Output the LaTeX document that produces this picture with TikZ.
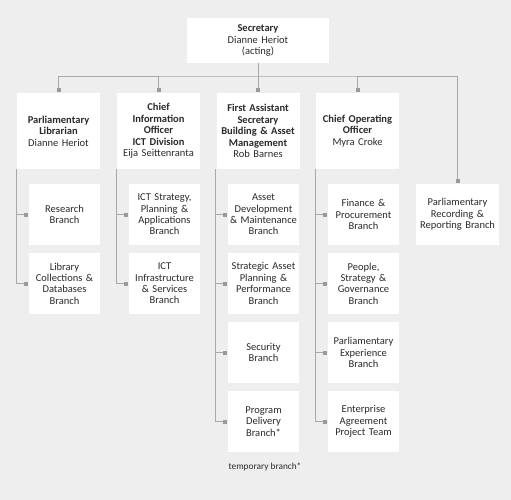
\documentclass[tikz,border=0pt]{standalone}
\usepackage{fontspec}
\setmainfont{Carlito}
\usetikzlibrary{calc}
\definecolor{bg}{HTML}{EEEEEE}
\definecolor{ln}{HTML}{A8A8A8}
\definecolor{mk}{HTML}{9A9A9A}
\definecolor{tx}{HTML}{2A2A2A}
\begin{document}
\begin{tikzpicture}[x=1pt,y=-1pt,
  box/.style={fill=white, text=tx, align=center, inner sep=1pt, font=\fontsize{10.5}{11.4}\selectfont},
  top/.style={box, minimum width=142pt, minimum height=45pt, text width=140pt},
  lvl/.style={box, minimum width=83pt, minimum height=76pt, text width=81pt},
  kid/.style={box, minimum width=71pt, minimum height=61pt, text width=69pt},
  conn/.style={draw=ln, line width=0.9pt},
  sqm/.style={fill=mk, minimum size=4pt, inner sep=0pt, outer sep=0pt}
]
\fill[bg] (0,0) rectangle (511,500);
\useasboundingbox (0,0) rectangle (511,500);

% top
\node[top] (sec) at (258,40.5) {\textbf{Secretary}\\Dianne Heriot\\(acting)};

% level 2
\node[lvl] (l1) at (58.5,131) {\textbf{Parliamentary}\\\textbf{Librarian}\\Dianne Heriot};
\node[lvl] (l2) at (158.5,131) {\textbf{Chief}\\\textbf{Information}\\\textbf{Officer}\\\textbf{ICT Division}\\Eija Seittenranta};
\node[lvl] (l3) at (258,131) {\textbf{First Assistant}\\\textbf{Secretary}\\\textbf{Building \& Asset}\\\textbf{Management}\\Rob Barnes};
\node[lvl] (l4) at (357.5,131) {\textbf{Chief Operating}\\\textbf{Officer}\\Myra Croke};
\node[kid, minimum width=83pt, text width=81pt] (l5) at (457.5,214.5) {Parliamentary\\Recording \&\\Reporting Branch};

% children
\node[kid] (a1) at (64.5,214.5) {Research\\Branch};
\node[kid] (a2) at (64.5,283.5) {Library\\Collections \&\\Databases\\Branch};
\node[kid] (b1) at (164.5,214.5) {ICT Strategy,\\Planning \&\\Applications\\Branch};
\node[kid] (b2) at (164.5,283.5) {ICT\\Infrastructure\\\& Services\\Branch};
\node[kid] (c1) at (263.5,214.5) {Asset\\Development\\\& Maintenance\\Branch};
\node[kid] (c2) at (263.5,283.5) {Strategic Asset\\Planning \&\\Performance\\Branch};
\node[kid] (c3) at (263.5,352.5) {Security\\Branch};
\node[kid] (c4) at (263.5,421.5) {Program\\Delivery\\Branch*};
\node[kid] (d1) at (363.5,214.5) {Finance \&\\Procurement\\Branch};
\node[kid] (d2) at (363.5,283.5) {People,\\Strategy \&\\Governance\\Branch};
\node[kid] (d3) at (363.5,352.5) {Parliamentary\\Experience\\Branch};
\node[kid] (d4) at (363.5,421.5) {Enterprise\\Agreement\\Project Team};

\node[text=tx, font=\fontsize{9.3}{11}\selectfont] (note) at (265,467) {temporary branch*};

% markers for level 2
\foreach \n in {l1,l2,l3,l4,l5}{
  \node[sqm] (m\n) at ($(\n.north)+(0,-2.5)$) {};
}
% markers for children
\foreach \n in {a1,a2,b1,b2,c1,c2,c3,c4,d1,d2,d3,d4}{
  \node[sqm] (m\n) at ($(\n.west)+(-3,0)$) {};
}

% bus
\coordinate (bus) at (258,76);
\draw[conn] (sec.south) -- (ml3);
\draw[conn] (ml1) |- (bus) -| (ml5);
\draw[conn] (ml2) -- (ml2 |- bus);
\draw[conn] (ml4) -- (ml4 |- bus);

% child trees
\draw[conn] (l1.south west) |- (ma2);
\draw[conn] (ma1) -- (ma1 -| l1.south west);
\draw[conn] (l2.south west) |- (mb2);
\draw[conn] (mb1) -- (mb1 -| l2.south west);
\draw[conn] ($(l3.south west)+(-1,0)$) |- (mc4);
\foreach \n in {c1,c2,c3}{
  \draw[conn] (m\n) -- ($(m\n -| l3.south west)+(-1,0)$);
}
\draw[conn] (l4.south west) |- (md4);
\foreach \n in {d1,d2,d3}{
  \draw[conn] (m\n) -- (m\n -| l4.south west);
}
\end{tikzpicture}
\end{document}
